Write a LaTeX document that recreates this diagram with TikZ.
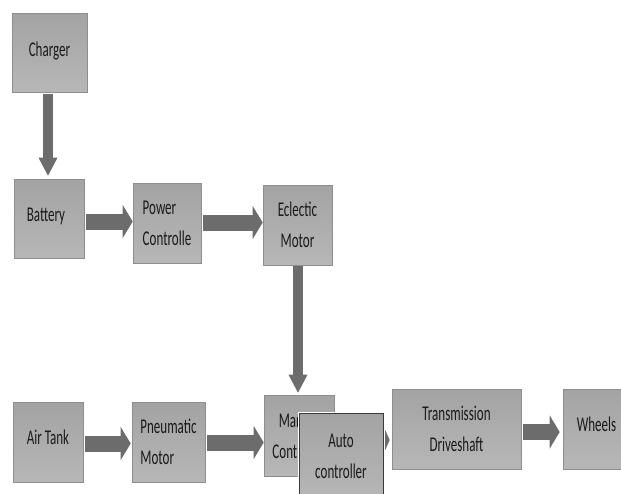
\documentclass[tikz,border=0pt]{standalone}
\usepackage{fontspec}
\setmainfont{Carlito}[FakeStretch=0.62]
\usetikzlibrary{arrows.meta}
\definecolor{boxtop}{HTML}{A3A3A3}
\definecolor{boxbot}{HTML}{B7B7B7}
\definecolor{boxedge}{HTML}{8E8E8E}
\definecolor{arrowc}{HTML}{6C6C6C}
\definecolor{txt}{HTML}{1A1A1A}
\definecolor{autoedge}{HTML}{3A3A3A}
\begin{document}
\begin{tikzpicture}[x=1pt,y=-1pt,
  box/.style={draw=boxedge, line width=0.6pt, top color=boxtop, bottom color=boxbot,
    inner sep=0pt, text=txt, font=\fontsize{21}{31}\selectfont},
  autobox/.style={box, draw=autoedge, line width=1pt,
    preaction={draw=white, line width=3pt}},
  harrow/.style={draw=arrowc, line width=16pt,
    -{Triangle[width=33pt,length=10pt,line width=0pt]}},
  shortarrow/.style={draw=arrowc, line width=16pt,
    -{Triangle[width=31pt,length=7pt,line width=0pt]}},
  varrow/.style={draw=arrowc, line width=10pt,
    -{Triangle[width=19pt,length=18pt,line width=0pt]}}]
\fill[white] (0,0) rectangle (621,493);
\useasboundingbox (0,0) rectangle (621,493);
\clip (0,0) rectangle (621,493);

\node[box, minimum width=75pt, minimum height=79pt] (charger) at (49.5,52.5) {\raisebox{7pt}{Charger}};
\node[box, minimum width=70pt, minimum height=79pt] (battery) at (49,218.5) {\raisebox{8pt}{\kern-6pt Battery}};
\node[box, minimum width=68pt, minimum height=80pt, align=left] (power) at (167,223) {Power\\Controlle};
\node[box, minimum width=69pt, minimum height=80pt, align=center] (eclectic) at (297.5,225) {Eclectic\\Motor};
\node[box, minimum width=70pt, minimum height=80pt] (airtank) at (48,442) {\raisebox{9pt}{Air Tank}};
\node[box, minimum width=73pt, minimum height=80pt, align=left] (pneumatic) at (168.5,442) {Pneumatic\\Motor};
\node[box, minimum width=70pt, minimum height=81pt, align=center] (manual) at (299,435.5) {Manual\\Controller};
\node[box, minimum width=129pt, minimum height=80pt, align=center] (transmission) at (456.5,429) {Transmission\\Driveshaft};
\node[box, minimum width=67pt, minimum height=80pt] (wheels) at (596.5,429) {\raisebox{9pt}{Wheels}};

\draw[varrow] ([shift={(-1.5,2)}]charger.south) -- ([shift={(-1,-3)}]battery.north);
\draw[harrow] ([shift={(2,3)}]battery.east) -- ([shift={(0,-1.5)}]power.west);
\draw[harrow] ([shift={(2,-0.5)}]power.east) -- ([shift={(0,-2.5)}]eclectic.west);
\draw[varrow] ([shift={(0.5,1)}]eclectic.south) -- ([shift={(-1,-2)}]manual.north);
\draw[harrow] ([shift={(2,1.5)}]airtank.east) -- ([shift={(-1,1.5)}]pneumatic.west);
\draw[harrow] ([shift={(2,0.5)}]pneumatic.east) -- ([shift={(0,7)}]manual.west);
\draw[shortarrow] ([shift={(2,4.5)}]manual.east) -- ([shift={(-2,11)}]transmission.west);
\draw[harrow] ([shift={(2,3)}]transmission.east) -- ([shift={(-3,3)}]wheels.west);

\node[autobox, minimum width=84pt, minimum height=87pt, align=center] (auto) at (341,456.5) {Auto\\controller};
\end{tikzpicture}
\end{document}
